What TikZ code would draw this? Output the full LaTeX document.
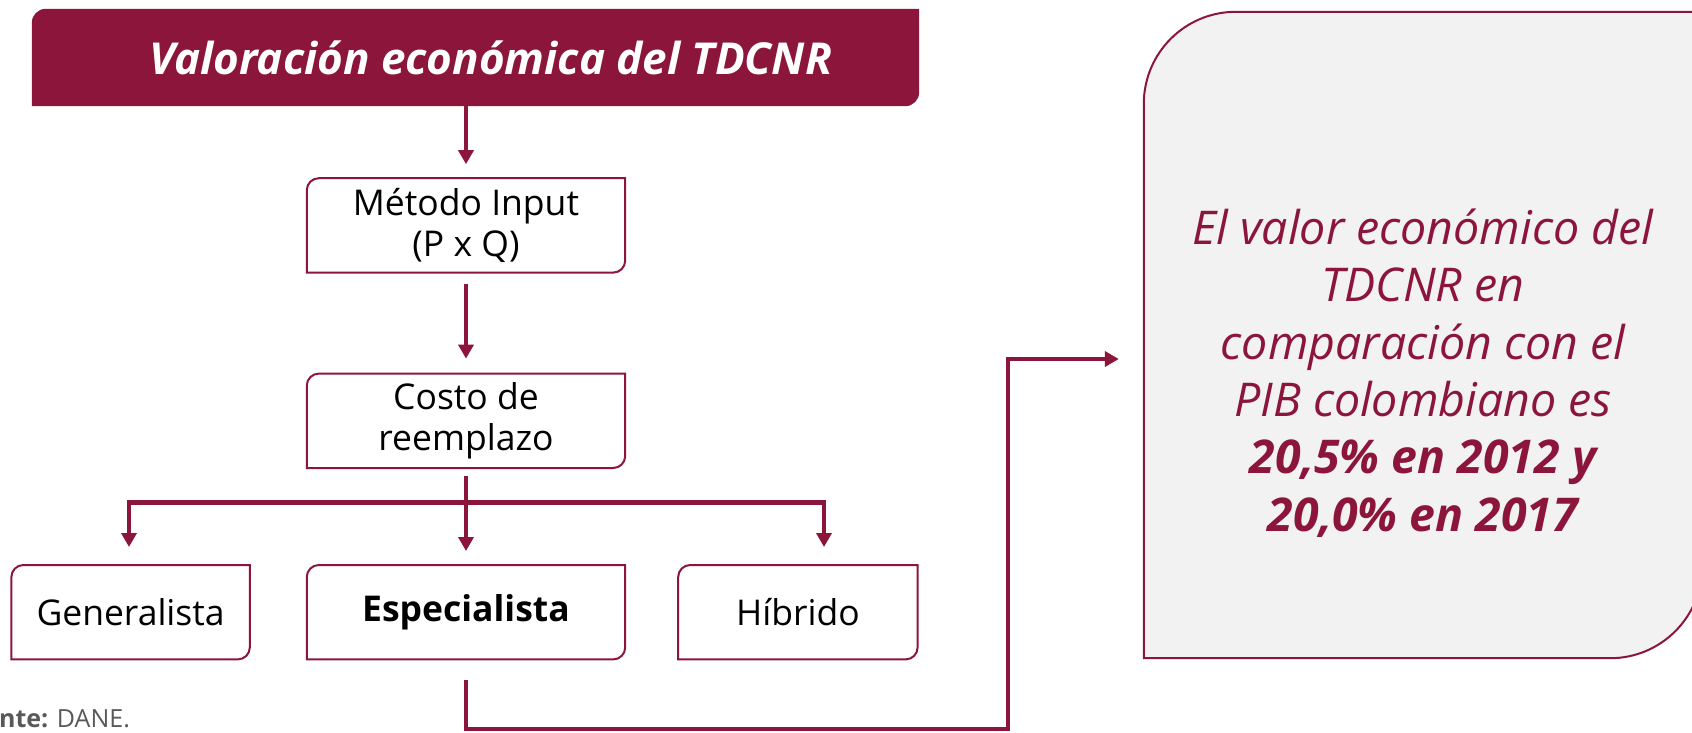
\documentclass[tikz,border=0pt]{standalone}
\usepackage{fontspec}
\setmainfont{Open Sans}
\usetikzlibrary{arrows.meta, positioning, backgrounds}
\definecolor{wine}{RGB}{140,21,59}
\definecolor{panel}{RGB}{242,242,242}
\definecolor{note}{RGB}{89,89,89}

% frame with rounded top-left and bottom-right corners
\newcommand{\cutframe}[3][]{%
  \path[#1] (#2.north east) -- ([xshift=#3]#2.north west)
    arc[start angle=90, end angle=180, radius=#3] -- (#2.south west)
    -- ([xshift=-#3]#2.south east)
    arc[start angle=270, end angle=360, radius=#3] -- cycle;}

\begin{document}
\begin{tikzpicture} [
    x=1pt, y=1pt,
    every node/.style={inner sep=0pt, align=center},
    stepbox/.style={minimum width=318pt, minimum height=94pt, font=\fontsize{35.5}{41}\selectfont},
    sidebox/.style={stepbox, minimum width=238pt},
    frame/.style={draw=wine, line width=2pt},
    every edge/.style={draw=wine, line width=4pt, -{Triangle[length=14pt, width=15pt]}},
    link/.style={draw=wine, line width=3.5pt, -{Triangle[length=14pt, width=15pt]}},
    bar/.style={draw=wine, line width=5pt}
  ]
  \useasboundingbox (0,0) rectangle (1692,-732);

  % Nodes and Positions
  % LEVEL 0 (TOP)
  \node (HEADER) [minimum width=887pt, minimum height=97pt] at (475.5,-57.5) {};
  \node (TITLE) [text=white, font=\fontsize{44}{52}\selectfont\bfseries\itshape]
    at ([xshift=15pt]HEADER.center) {Valoración económica del TDCNR};

  % LEVEL -1
  \node (INPUT) [stepbox, below=72pt of HEADER, xshift=-9.5pt] {Método Input\\(P x Q)};

  % LEVEL -2
  \node (COST) [stepbox, below=101pt of INPUT] {Costo de\\reemplazo};

  % LEVEL -3
  \node (SPEC) [stepbox, below=97pt of COST] {\bfseries Especialista};
  \node (GEN) [sidebox, left=57pt of SPEC] {Generalista};
  \node (HYB) [sidebox, right=53pt of SPEC, minimum width=239pt] {Híbrido};

  % RESULT (RIGHT)
  \node (RESULT) [minimum width=558pt, minimum height=646pt] at (1423,-335) {};
  \node (CLAIM) [text=wine, font=\fontsize{46.5}{57.4}\selectfont\itshape] at ([yshift=-38pt]RESULT.center)
    {El valor económico del\\TDCNR en\\comparación con el\\PIB colombiano es\\{\bfseries 20,5\% en 2012 y}\\{\bfseries 20,0\% en 2017}};

  % SOURCE
  \node (SOURCE) [anchor=base west, text=note, font=\fontsize{25}{29}\selectfont] at (-46,-727) {\textbf{Fuente:} DANE.};

  % Frames
  \begin{scope}[on background layer]
    \cutframe[fill=wine]{HEADER}{14pt}
    \cutframe[fill=panel, frame]{RESULT}{92pt}
  \end{scope}
  \foreach \n in {INPUT, COST, GEN, SPEC, HYB} {\cutframe[frame]{\n}{12pt}}

  % Split points
  \coordinate (SPLIT) at (COST.south |- 0,-502);
  \coordinate (GENTOP) at (129,-502);
  \coordinate (HYBTOP) at (824,-502);
  \coordinate (LOW) at (1008,-729);
  \coordinate (INLET) at ([yshift=-24pt]RESULT.west);

  % Edges
  \path (HEADER.south -| INPUT.north) edge[shorten >=14pt] (INPUT.north);
  \path (INPUT) edge[shorten <=11pt, shorten >=15pt] (COST);
  \path (COST) edge[shorten <=8pt, shorten >=14pt] (SPEC);

  \path[bar] ([xshift=-2pt]GENTOP) -- ([xshift=2pt]HYBTOP);
  \path (GENTOP) edge[shorten >=18pt] (GENTOP |- GEN.north);
  \path (HYBTOP) edge[shorten >=18pt] (HYBTOP |- HYB.north);

  \path[link, shorten <=21pt, shorten >=25pt] (SPEC.south) |- (LOW) |- (INLET);

\end{tikzpicture}
\end{document}
